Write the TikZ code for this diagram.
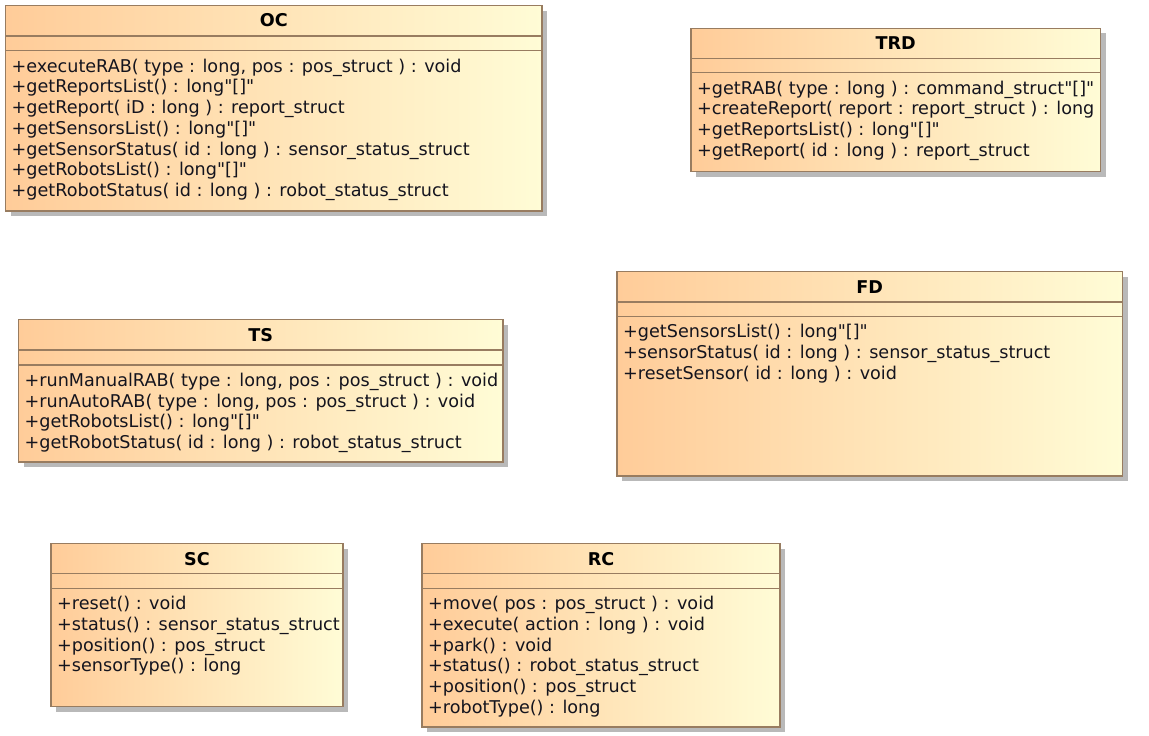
\documentclass[tikz,border=0pt]{standalone}
\usepackage{fontspec}
\newfontfamily\umlfont{DejaVu Sans}
\definecolor{umlorange}{RGB}{255,204,153}
\definecolor{umlcream}{RGB}{255,252,214}
\definecolor{umlborder}{RGB}{152,124,96}
\definecolor{umlshadow}{RGB}{185,185,185}
\definecolor{umltext}{RGB}{20,20,30}
\tikzset{
  classshadow/.style={fill=umlshadow, draw=none},
  classbox/.style={draw=umlborder, line width=1.4pt, left color=umlorange, right color=umlcream},
  classsep/.style={draw=umlborder, line width=1.4pt},
  classname/.style={font=\umlfont\fontsize{17.6}{20.75}\selectfont\bfseries, anchor=base, inner sep=0pt, text=black},
  classop/.style={font=\umlfont\fontsize{17.6}{20.75}\selectfont, anchor=base west, inner sep=0pt, text=umltext}
}
\begin{document}
\begin{tikzpicture}[x=1pt, y=-1pt]
\useasboundingbox (0,0) rectangle (1149,736);
% OC
\fill[classshadow] (10.5,10.5) rectangle (547,216);
\draw[classbox] (5.5,5.5) rectangle (542,211);
\draw[classsep] (5.5,36) -- (542,36) (5.5,50.7) -- (542,50.7);
\node[classname] (oc) at (273.75,27) {OC};
\node[classop] (oc-1) at (11.5,72) {+executeRAB( type : long, pos : pos\_struct ) : void};
\node[classop] (oc-2) at (11.5,92.75) {+getReportsList() : long"[]"};
\node[classop] (oc-3) at (11.5,113.5) {+getReport( iD : long ) : report\_struct};
\node[classop] (oc-4) at (11.5,134.25) {+getSensorsList() : long"[]"};
\node[classop] (oc-5) at (11.5,155) {+getSensorStatus( id : long ) : sensor\_status\_struct};
\node[classop] (oc-6) at (11.5,175.75) {+getRobotsList() : long"[]"};
\node[classop] (oc-7) at (11.5,196.5) {+getRobotStatus( id : long ) : robot\_status\_struct};
% TRD
\fill[classshadow] (696,33.3) rectangle (1105.5,176.5);
\draw[classbox] (691,28.3) rectangle (1100.5,171.5);
\draw[classsep] (691,58.3) -- (1100.5,58.3) (691,72.7) -- (1100.5,72.7);
\node[classname] (trd) at (895.75,49.8) {TRD};
\node[classop] (trd-1) at (697,94) {+getRAB( type : long ) : command\_struct"[]"};
\node[classop] (trd-2) at (697,114.75) {+createReport( report : report\_struct ) : long};
\node[classop] (trd-3) at (697,135.5) {+getReportsList() : long"[]"};
\node[classop] (trd-4) at (697,156.25) {+getReport( id : long ) : report\_struct};
% TS
\fill[classshadow] (23.5,324.5) rectangle (508,467);
\draw[classbox] (18.5,319.5) rectangle (503,462);
\draw[classsep] (18.5,350) -- (503,350) (18.5,365) -- (503,365);
\node[classname] (ts) at (260.75,341) {TS};
\node[classop] (ts-1) at (24.5,386.3) {+runManualRAB( type : long, pos : pos\_struct ) : void};
\node[classop] (ts-2) at (24.5,407.05) {+runAutoRAB( type : long, pos : pos\_struct ) : void};
\node[classop] (ts-3) at (24.5,427.8) {+getRobotsList() : long"[]"};
\node[classop] (ts-4) at (24.5,448.55) {+getRobotStatus( id : long ) : robot\_status\_struct};
% FD
\fill[classshadow] (622,276.5) rectangle (1127.5,481);
\draw[classbox] (617,271.5) rectangle (1122.5,476);
\draw[classsep] (617,301.8) -- (1122.5,301.8) (617,316.3) -- (1122.5,316.3);
\node[classname] (fd) at (869.75,293) {FD};
\node[classop] (fd-1) at (623,337.6) {+getSensorsList() : long"[]"};
\node[classop] (fd-2) at (623,358.35) {+sensorStatus( id : long ) : sensor\_status\_struct};
\node[classop] (fd-3) at (623,379.1) {+resetSensor( id : long ) : void};
% SC
\fill[classshadow] (56,548.5) rectangle (348,711.5);
\draw[classbox] (51,543.5) rectangle (343,706.5);
\draw[classsep] (51,573.5) -- (343,573.5) (51,588.3) -- (343,588.3);
\node[classname] (sc) at (197,565) {SC};
\node[classop] (sc-1) at (57,609.6) {+reset() : void};
\node[classop] (sc-2) at (57,630.35) {+status() : sensor\_status\_struct};
\node[classop] (sc-3) at (57,651.1) {+position() : pos\_struct};
\node[classop] (sc-4) at (57,671.85) {+sensorType() : long};
% RC
\fill[classshadow] (427,548.5) rectangle (785,732);
\draw[classbox] (422,543.5) rectangle (780,727);
\draw[classsep] (422,573.5) -- (780,573.5) (422,588.3) -- (780,588.3);
\node[classname] (rc) at (601,565) {RC};
\node[classop] (rc-1) at (428,609.6) {+move( pos : pos\_struct ) : void};
\node[classop] (rc-2) at (428,630.35) {+execute( action : long ) : void};
\node[classop] (rc-3) at (428,651.1) {+park() : void};
\node[classop] (rc-4) at (428,671.85) {+status() : robot\_status\_struct};
\node[classop] (rc-5) at (428,692.6) {+position() : pos\_struct};
\node[classop] (rc-6) at (428,713.35) {+robotType() : long};
\end{tikzpicture}
\end{document}
